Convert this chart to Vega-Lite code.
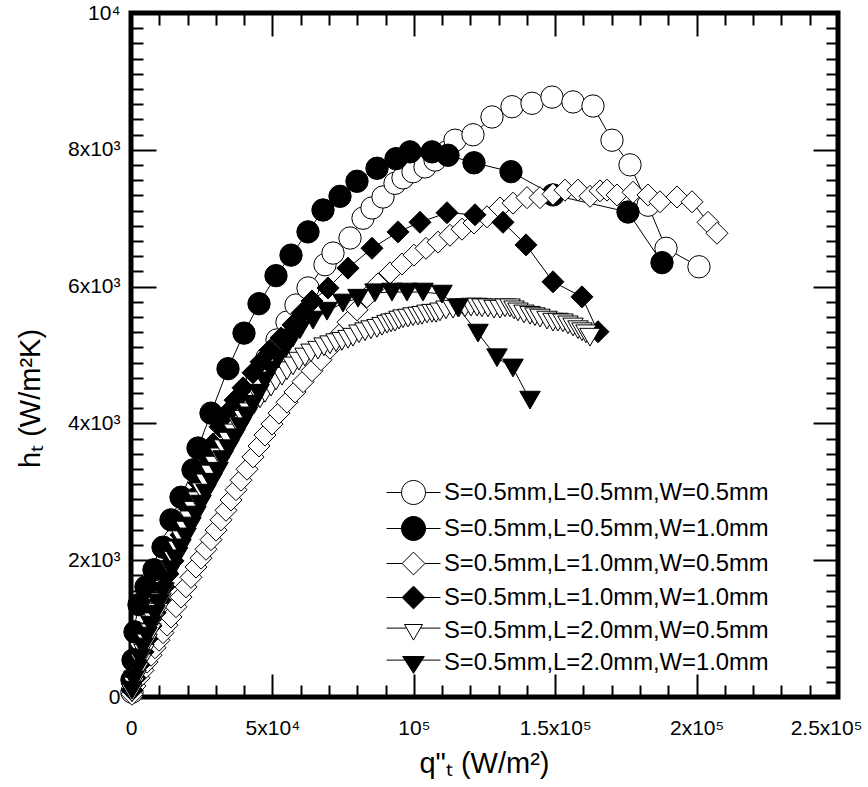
{
"$schema": "https://vega.github.io/schema/vega-lite/v6.json",
"width": 707, "height": 684,
"autosize": {"type": "none"},
"padding": {"left": 131, "top": 13, "right": 30, "bottom": 90},
"background": "white",
"config": {"view": {"stroke": "black", "strokeWidth": 5}, "font": "Liberation Sans", "legend": {"symbolStrokeWidth": 1}},
"data": {"values": [
{"s":"A","x":350,"y":70},{"s":"A","x":1060,"y":280},{"s":"A","x":2120,"y":540},{"s":"A","x":3540,"y":830},{"s":"A","x":5660,"y":1130},{"s":"A","x":7780,"y":1420},{"s":"A","x":10250,"y":1710},{"s":"A","x":12730,"y":2000},{"s":"A","x":15560,"y":2300},{"s":"A","x":18390,"y":2590},{"s":"A","x":21570,"y":2880},{"s":"A","x":24750,"y":3170},{"s":"A","x":27930,"y":3440},{"s":"A","x":31120,"y":3700},{"s":"A","x":34300,"y":3950},{"s":"A","x":37480,"y":4200},{"s":"A","x":41020,"y":4440},{"s":"A","x":44550,"y":4690},{"s":"A","x":48090,"y":4960},{"s":"A","x":51630,"y":5220},{"s":"A","x":55160,"y":5480},{"s":"A","x":58340,"y":5730},{"s":"A","x":62590,"y":5980},{"s":"A","x":68600,"y":6320},{"s":"A","x":71430,"y":6490},{"s":"A","x":77440,"y":6710},{"s":"A","x":82040,"y":7000},{"s":"A","x":85220,"y":7150},{"s":"A","x":89110,"y":7310},{"s":"A","x":93350,"y":7510},{"s":"A","x":96180,"y":7590},{"s":"A","x":99720,"y":7680},{"s":"A","x":103960,"y":7750},{"s":"A","x":107490,"y":7850},{"s":"A","x":111740,"y":7970},{"s":"A","x":114570,"y":8140},{"s":"A","x":120930,"y":8220},{"s":"A","x":127650,"y":8480},{"s":"A","x":134720,"y":8630},{"s":"A","x":141790,"y":8680},{"s":"A","x":148870,"y":8770},{"s":"A","x":156290,"y":8700},{"s":"A","x":163360,"y":8640},{"s":"A","x":170080,"y":8140},{"s":"A","x":176450,"y":7780},{"s":"A","x":182810,"y":7190},{"s":"A","x":189180,"y":6560},{"s":"A","x":200840,"y":6290},
{"s":"B","x":350,"y":250},{"s":"B","x":710,"y":540},{"s":"B","x":1410,"y":950},{"s":"B","x":2830,"y":1350},{"s":"B","x":5300,"y":1610},{"s":"B","x":8130,"y":1860},{"s":"B","x":11320,"y":2190},{"s":"B","x":14140,"y":2590},{"s":"B","x":17680,"y":2920},{"s":"B","x":21920,"y":3320},{"s":"B","x":23690,"y":3640},{"s":"B","x":28290,"y":4150},{"s":"B","x":34300,"y":4800},{"s":"B","x":39960,"y":5320},{"s":"B","x":45260,"y":5750},{"s":"B","x":51270,"y":6160},{"s":"B","x":56580,"y":6460},{"s":"B","x":62590,"y":6800},{"s":"B","x":67890,"y":7120},{"s":"B","x":73900,"y":7320},{"s":"B","x":79910,"y":7540},{"s":"B","x":86990,"y":7730},{"s":"B","x":93700,"y":7870},{"s":"B","x":98650,"y":7970},{"s":"B","x":106430,"y":7970},{"s":"B","x":112090,"y":7920},{"s":"B","x":121280,"y":7810},{"s":"B","x":134370,"y":7680},{"s":"B","x":149220,"y":7340},{"s":"B","x":175740,"y":7090},{"s":"B","x":187760,"y":6350},
{"s":"C","x":350,"y":40},{"s":"C","x":1410,"y":160},{"s":"C","x":2830,"y":280},{"s":"C","x":4240,"y":390},{"s":"C","x":5660,"y":510},{"s":"C","x":7070,"y":610},{"s":"C","x":8490,"y":720},{"s":"C","x":9900,"y":830},{"s":"C","x":11320,"y":940},{"s":"C","x":12730,"y":1050},{"s":"C","x":14140,"y":1170},{"s":"C","x":15910,"y":1320},{"s":"C","x":17680,"y":1460},{"s":"C","x":19450,"y":1610},{"s":"C","x":21220,"y":1750},{"s":"C","x":22980,"y":1900},{"s":"C","x":24750,"y":2030},{"s":"C","x":26520,"y":2160},{"s":"C","x":28290,"y":2300},{"s":"C","x":30060,"y":2440},{"s":"C","x":31820,"y":2590},{"s":"C","x":33590,"y":2730},{"s":"C","x":35360,"y":2880},{"s":"C","x":37130,"y":3030},{"s":"C","x":38900,"y":3170},{"s":"C","x":41020,"y":3330},{"s":"C","x":43140,"y":3510},{"s":"C","x":45260,"y":3670},{"s":"C","x":47380,"y":3830},{"s":"C","x":49860,"y":3990},{"s":"C","x":52330,"y":4150},{"s":"C","x":55160,"y":4310},{"s":"C","x":57990,"y":4460},{"s":"C","x":60820,"y":4610},{"s":"C","x":64000,"y":4770},{"s":"C","x":67180,"y":4930},{"s":"C","x":70370,"y":5100},{"s":"C","x":73550,"y":5290},{"s":"C","x":76730,"y":5480},{"s":"C","x":79910,"y":5660},{"s":"C","x":83450,"y":5850},{"s":"C","x":87340,"y":6040},{"s":"C","x":91580,"y":6200},{"s":"C","x":95830,"y":6330},{"s":"C","x":100070,"y":6460},{"s":"C","x":104310,"y":6560},{"s":"C","x":108560,"y":6650},{"s":"C","x":112800,"y":6750},{"s":"C","x":117040,"y":6840},{"s":"C","x":121280,"y":6930},{"s":"C","x":125880,"y":7020},{"s":"C","x":130480,"y":7150},{"s":"C","x":135080,"y":7220},{"s":"C","x":140030,"y":7300},{"s":"C","x":144620,"y":7300},{"s":"C","x":149220,"y":7350},{"s":"C","x":153460,"y":7410},{"s":"C","x":158060,"y":7410},{"s":"C","x":162300,"y":7320},{"s":"C","x":165840,"y":7400},{"s":"C","x":168310,"y":7410},{"s":"C","x":171850,"y":7340},{"s":"C","x":177510,"y":7380},{"s":"C","x":182810,"y":7340},{"s":"C","x":187050,"y":7240},{"s":"C","x":193070,"y":7310},{"s":"C","x":198370,"y":7240},{"s":"C","x":204030,"y":6940},{"s":"C","x":207210,"y":6780},
{"s":"D","x":350,"y":100},{"s":"D","x":1410,"y":280},{"s":"D","x":2830,"y":470},{"s":"D","x":4240,"y":660},{"s":"D","x":5660,"y":850},{"s":"D","x":7070,"y":1040},{"s":"D","x":8490,"y":1230},{"s":"D","x":10250,"y":1420},{"s":"D","x":11670,"y":1610},{"s":"D","x":13080,"y":1800},{"s":"D","x":14850,"y":1990},{"s":"D","x":16270,"y":2180},{"s":"D","x":17680,"y":2370},{"s":"D","x":19450,"y":2560},{"s":"D","x":20860,"y":2750},{"s":"D","x":22630,"y":2940},{"s":"D","x":24040,"y":3130},{"s":"D","x":25460,"y":3320},{"s":"D","x":27230,"y":3510},{"s":"D","x":29000,"y":3700},{"s":"D","x":31470,"y":3950},{"s":"D","x":33950,"y":4150},{"s":"D","x":36770,"y":4340},{"s":"D","x":39600,"y":4520},{"s":"D","x":43140,"y":4740},{"s":"D","x":45970,"y":4900},{"s":"D","x":49150,"y":5070},{"s":"D","x":53040,"y":5250},{"s":"D","x":57280,"y":5440},{"s":"D","x":60470,"y":5610},{"s":"D","x":64000,"y":5790},{"s":"D","x":69660,"y":5980},{"s":"D","x":76730,"y":6270},{"s":"D","x":85220,"y":6560},{"s":"D","x":94410,"y":6800},{"s":"D","x":102190,"y":6940},{"s":"D","x":111740,"y":7080},{"s":"D","x":121640,"y":7050},{"s":"D","x":131540,"y":6940},{"s":"D","x":139670,"y":6610},{"s":"D","x":149220,"y":6070},{"s":"D","x":159470,"y":5850},{"s":"D","x":165130,"y":5340},
{"s":"E","x":350,"y":60},{"s":"E","x":1060,"y":160},{"s":"E","x":1770,"y":260},{"s":"E","x":2480,"y":370},{"s":"E","x":3540,"y":500},{"s":"E","x":4600,"y":640},{"s":"E","x":5660,"y":790},{"s":"E","x":7070,"y":940},{"s":"E","x":8130,"y":1100},{"s":"E","x":9550,"y":1240},{"s":"E","x":10610,"y":1390},{"s":"E","x":11670,"y":1540},{"s":"E","x":12730,"y":1700},{"s":"E","x":14140,"y":1860},{"s":"E","x":15200,"y":2000},{"s":"E","x":16620,"y":2150},{"s":"E","x":18030,"y":2300},{"s":"E","x":19450,"y":2440},{"s":"E","x":20860,"y":2590},{"s":"E","x":22280,"y":2730},{"s":"E","x":23690,"y":2870},{"s":"E","x":25110,"y":3000},{"s":"E","x":26520,"y":3130},{"s":"E","x":28290,"y":3260},{"s":"E","x":29700,"y":3390},{"s":"E","x":31470,"y":3510},{"s":"E","x":32880,"y":3630},{"s":"E","x":34650,"y":3740},{"s":"E","x":36420,"y":3860},{"s":"E","x":38190,"y":3960},{"s":"E","x":39960,"y":4060},{"s":"E","x":41720,"y":4170},{"s":"E","x":43490,"y":4270},{"s":"E","x":45610,"y":4360},{"s":"E","x":47380,"y":4440},{"s":"E","x":49500,"y":4530},{"s":"E","x":51270,"y":4620},{"s":"E","x":53390,"y":4690},{"s":"E","x":55160,"y":4770},{"s":"E","x":57280,"y":4840},{"s":"E","x":59400,"y":4910},{"s":"E","x":61530,"y":4970},{"s":"E","x":63650,"y":5030},{"s":"E","x":66120,"y":5070},{"s":"E","x":68240,"y":5120},{"s":"E","x":70370,"y":5150},{"s":"E","x":72490,"y":5180},{"s":"E","x":74610,"y":5200},{"s":"E","x":76730,"y":5230},{"s":"E","x":78500,"y":5260},{"s":"E","x":80620,"y":5310},{"s":"E","x":82740,"y":5340},{"s":"E","x":84860,"y":5370},{"s":"E","x":86990,"y":5390},{"s":"E","x":88750,"y":5420},{"s":"E","x":90520,"y":5450},{"s":"E","x":91940,"y":5470},{"s":"E","x":93350,"y":5480},{"s":"E","x":94760,"y":5510},{"s":"E","x":96180,"y":5530},{"s":"E","x":97950,"y":5540},{"s":"E","x":99720,"y":5560},{"s":"E","x":101480,"y":5570},{"s":"E","x":102900,"y":5580},{"s":"E","x":104670,"y":5600},{"s":"E","x":106430,"y":5610},{"s":"E","x":107850,"y":5610},{"s":"E","x":109260,"y":5630},{"s":"E","x":111380,"y":5660},{"s":"E","x":113860,"y":5670},{"s":"E","x":115980,"y":5690},{"s":"E","x":118100,"y":5690},{"s":"E","x":120220,"y":5700},{"s":"E","x":122350,"y":5700},{"s":"E","x":124110,"y":5690},{"s":"E","x":126240,"y":5690},{"s":"E","x":128360,"y":5670},{"s":"E","x":130480,"y":5670},{"s":"E","x":132250,"y":5690},{"s":"E","x":134010,"y":5690},{"s":"E","x":135430,"y":5660},{"s":"E","x":136840,"y":5630},{"s":"E","x":138960,"y":5600},{"s":"E","x":141090,"y":5580},{"s":"E","x":142850,"y":5560},{"s":"E","x":144620,"y":5540},{"s":"E","x":147100,"y":5510},{"s":"E","x":149220,"y":5480},{"s":"E","x":150990,"y":5480},{"s":"E","x":152760,"y":5470},{"s":"E","x":154520,"y":5440},{"s":"E","x":156290,"y":5410},{"s":"E","x":158060,"y":5370},{"s":"E","x":159470,"y":5340},{"s":"E","x":160890,"y":5310},{"s":"E","x":162300,"y":5260},
{"s":"F","x":350,"y":100},{"s":"F","x":1060,"y":250},{"s":"F","x":2120,"y":410},{"s":"F","x":3180,"y":570},{"s":"F","x":4240,"y":730},{"s":"F","x":5660,"y":890},{"s":"F","x":7070,"y":1050},{"s":"F","x":8490,"y":1210},{"s":"F","x":9900,"y":1370},{"s":"F","x":11320,"y":1540},{"s":"F","x":12730,"y":1700},{"s":"F","x":14500,"y":1860},{"s":"F","x":15910,"y":2020},{"s":"F","x":17680,"y":2180},{"s":"F","x":19450,"y":2340},{"s":"F","x":21220,"y":2500},{"s":"F","x":22980,"y":2660},{"s":"F","x":24750,"y":2820},{"s":"F","x":26520,"y":2980},{"s":"F","x":28640,"y":3140},{"s":"F","x":30760,"y":3300},{"s":"F","x":32530,"y":3470},{"s":"F","x":34650,"y":3630},{"s":"F","x":36770,"y":3790},{"s":"F","x":38900,"y":3950},{"s":"F","x":41020,"y":4110},{"s":"F","x":43140,"y":4280},{"s":"F","x":45260,"y":4440},{"s":"F","x":47380,"y":4620},{"s":"F","x":49500,"y":4780},{"s":"F","x":51980,"y":4940},{"s":"F","x":54810,"y":5100},{"s":"F","x":57280,"y":5250},{"s":"F","x":59760,"y":5370},{"s":"F","x":64360,"y":5510},{"s":"F","x":69310,"y":5640},{"s":"F","x":74960,"y":5760},{"s":"F","x":80270,"y":5830},{"s":"F","x":86280,"y":5910},{"s":"F","x":92290,"y":5920},{"s":"F","x":97590,"y":5920},{"s":"F","x":103250,"y":5920},{"s":"F","x":109970,"y":5890},{"s":"F","x":115630,"y":5690},{"s":"F","x":122700,"y":5320},{"s":"F","x":129420,"y":4960},{"s":"F","x":135080,"y":4810},{"s":"F","x":141090,"y":4340}
]},
"layer": [
{
"mark": {"type": "line", "color": "black", "strokeWidth": 1},
"encoding": {
"x": {"field": "x", "type": "quantitative", "scale": {"domain": [0, 250000], "nice": false, "zero": false},
"axis": {"orient": "bottom", "values": [0,50000,100000,150000,200000,250000],
"labelExpr": "datum.value == 0 ? '0' : datum.value == 50000 ? '5x10⁴' : datum.value == 100000 ? '10⁵' : datum.value == 150000 ? '1.5x10⁵' : datum.value == 200000 ? '2x10⁵' : ''",
"labelFontSize": 21, "labelFont": "Liberation Sans", "labelColor": "black", "labelPadding": 43, "labelOverlap": false, "labelFlush": false,
"title": "q\"ₜ (W/m²)", "titleFont": "Liberation Sans", "titleFontSize": 29, "titleFontWeight": "normal", "titleColor": "black",
"titleX": 353, "titleY": 52, "titleAlign": "center", "titleBaseline": "top",
"domain": false, "grid": false, "ticks": true, "tickSize": -23, "tickColor": "black", "tickWidth": 2}},
"y": {"field": "y", "type": "quantitative", "scale": {"domain": [0, 10000], "nice": false},
"axis": {"orient": "left", "values": [0,2000,4000,6000,8000,10000],
"labelExpr": "datum.value == 0 ? '0' : datum.value == 10000 ? '10⁴' : (datum.value / 1000) + 'x10³'",
"labelFontSize": 21, "labelFont": "Liberation Sans", "labelColor": "black", "labelPadding": 36, "labelOverlap": false, "labelFlush": false,
"title": "hₜ (W/m²K)", "titleFont": "Liberation Sans", "titleFontSize": 29, "titleFontWeight": "normal", "titleColor": "black",
"titleX": -101, "titleY": 385, "titleAngle": -90, "titleAlign": "center", "titleBaseline": "middle",
"domain": false, "grid": false, "ticks": true, "tickSize": -25, "tickColor": "black", "tickWidth": 2}},
"detail": {"field": "s", "type": "nominal"}
}
},
{
"transform": [{"filter": "datum.s == 'A' || datum.s == 'B'"}],
"mark": {"type": "point", "shape": "circle", "filled": true, "opacity": 1, "stroke": "black", "strokeWidth": 1, "size": 500},
"encoding": {
"x": {"field": "x", "type": "quantitative", "scale": {"domain": [0, 250000], "nice": false, "zero": false},
"axis": {"orient": "top", "values": [0,50000,100000,150000,200000,250000], "labels": false, "title": null, "domain": false, "grid": false, "ticks": true, "tickSize": -23, "tickColor": "black", "tickWidth": 2}},
"y": {"field": "y", "type": "quantitative", "scale": {"domain": [0, 10000], "nice": false},
"axis": {"orient": "right", "values": [0,2000,4000,6000,8000,10000], "labels": false, "title": null, "domain": false, "grid": false, "ticks": true, "tickSize": -25, "tickColor": "black", "tickWidth": 2}},
"fill": {"field": "s", "type": "nominal", "scale": {"domain": ["A","B","C","D","E","F"], "range": ["white","black","white","black","white","black"]}, "legend": {"orient": "none", "legendX": 270, "legendY": 467, "title": null}}
}
},
{
"transform": [{"filter": "datum.s == 'C' || datum.s == 'D'"}],
"mark": {"type": "point", "shape": "diamond", "filled": true, "opacity": 1, "stroke": "black", "strokeWidth": 1, "size": 484},
"encoding": {
"x": {"field": "x", "type": "quantitative", "scale": {"domain": [0, 250000], "nice": false, "zero": false},
"axis": {"orient": "bottom", "values": [10000,20000,30000,40000,60000,70000,80000,90000,110000,120000,130000,140000,160000,170000,180000,190000,210000,220000,230000,240000,250000],
"labelExpr": "datum.value == 250000 ? '2.5x10⁵' : ''", "labelOffset": -12,
"labelFontSize": 21, "labelFont": "Liberation Sans", "labelColor": "black", "labelPadding": 32, "labelOverlap": false, "labelFlush": false,
"title": null, "domain": false, "grid": false, "ticks": true, "tickSize": -12, "tickColor": "black", "tickWidth": 2}},
"y": {"field": "y", "type": "quantitative", "scale": {"domain": [0, 10000], "nice": false},
"axis": {"orient": "left", "values": [222.222,444.444,666.667,888.889,1111.111,1333.333,1555.556,1777.778,2222.222,2444.444,2666.667,2888.889,3111.111,3333.333,3555.556,3777.778,4222.222,4444.444,4666.667,4888.889,5111.111,5333.333,5555.556,5777.778,6222.222,6444.444,6666.667,6888.889,7111.111,7333.333,7555.556,7777.778,8222.222,8444.444,8666.667,8888.889,9111.111,9333.333,9555.556,9777.778],
"labels": false, "title": null, "domain": false, "grid": false, "ticks": true, "tickSize": -12, "tickColor": "black", "tickWidth": 2}},
"fill": {"field": "s", "type": "nominal", "scale": {"domain": ["A","B","C","D","E","F"], "range": ["white","black","white","black","white","black"]}, "legend": {"orient": "none", "legendX": 270, "legendY": 467, "title": null}}
}
},
{
"transform": [{"filter": "datum.s == 'E' || datum.s == 'F'"}],
"mark": {"type": "point", "shape": "triangle-down", "filled": true, "opacity": 1, "stroke": "black", "strokeWidth": 1, "size": 420},
"encoding": {
"x": {"field": "x", "type": "quantitative", "scale": {"domain": [0, 250000], "nice": false, "zero": false},
"axis": {"orient": "top", "values": [10000,20000,30000,40000,60000,70000,80000,90000,110000,120000,130000,140000,160000,170000,180000,190000,210000,220000,230000,240000],
"labels": false, "title": null, "domain": false, "grid": false, "ticks": true, "tickSize": -12, "tickColor": "black", "tickWidth": 2}},
"y": {"field": "y", "type": "quantitative", "scale": {"domain": [0, 10000], "nice": false},
"axis": {"orient": "right", "values": [222.222,444.444,666.667,888.889,1111.111,1333.333,1555.556,1777.778,2222.222,2444.444,2666.667,2888.889,3111.111,3333.333,3555.556,3777.778,4222.222,4444.444,4666.667,4888.889,5111.111,5333.333,5555.556,5777.778,6222.222,6444.444,6666.667,6888.889,7111.111,7333.333,7555.556,7777.778,8222.222,8444.444,8666.667,8888.889,9111.111,9333.333,9555.556,9777.778],
"labels": false, "title": null, "domain": false, "grid": false, "ticks": true, "tickSize": -12, "tickColor": "black", "tickWidth": 2}},
"fill": {"field": "s", "type": "nominal", "scale": {"domain": ["A","B","C","D","E","F"], "range": ["white","black","white","black","white","black"]}, "legend": {"orient": "none", "legendX": 270, "legendY": 467, "title": null}}
}
},
{
"transform": [{"filter": "false"}],
"mark": {"type": "point", "filled": true, "opacity": 1, "strokeWidth": 1},
"encoding": {
"shape": {"field": "s", "type": "nominal", "scale": {"domain": ["A","B","C","D","E","F"], "range": ["M-2.25,0H-1M-1,0A1,1 0 1,1 1,0A1,1 0 1,1 -1,0ZM1,0H2.25","M-2.25,0H-1M-1,0A1,1 0 1,1 1,0A1,1 0 1,1 -1,0ZM1,0H2.25","M-2.25,0H-0.95M-0.95,0L0,-0.95L0.95,0L0,0.95ZM0.95,0H2.25","M-2.25,0H-0.95M-0.95,0L0,-0.95L0.95,0L0,0.95ZM0.95,0H2.25","M-2.25,-0.2H-0.58M-0.75,-0.5L0.75,-0.5L0,0.8ZM0.58,-0.2H2.25","M-2.25,-0.2H-0.72M-0.9,-0.5L0.9,-0.5L0,0.9ZM0.72,-0.2H2.25"]},
"legend": {"orient": "none", "legendX": 270, "legendY": 467, "title": null, "padding": 0, "symbolSize": 576, "symbolStrokeWidth": 1,
"labelFontSize": 23.8, "labelFont": "Liberation Sans", "labelColor": "black", "labelOffset": 18, "labelLimit": 600, "rowPadding": 7,
"labelExpr": "datum.value == 'A' ? 'S=0.5mm,L=0.5mm,W=0.5mm' : datum.value == 'B' ? 'S=0.5mm,L=0.5mm,W=1.0mm' : datum.value == 'C' ? 'S=0.5mm,L=1.0mm,W=0.5mm' : datum.value == 'D' ? 'S=0.5mm,L=1.0mm,W=1.0mm' : datum.value == 'E' ? 'S=0.5mm,L=2.0mm,W=0.5mm' : 'S=0.5mm,L=2.0mm,W=1.0mm'"}},
"fill": {"field": "s", "type": "nominal", "scale": {"domain": ["A","B","C","D","E","F"], "range": ["white","black","white","black","white","black"]}, "legend": {"orient": "none", "legendX": 270, "legendY": 467, "title": null}},
"stroke": {"field": "s", "type": "nominal", "scale": {"domain": ["A","B","C","D","E","F"], "range": ["black","black","black","black","black","black"]}, "legend": {"orient": "none", "legendX": 270, "legendY": 467, "title": null}}
}
}
],
"resolve": {"axis": {"x": "independent", "y": "independent"}}
}
